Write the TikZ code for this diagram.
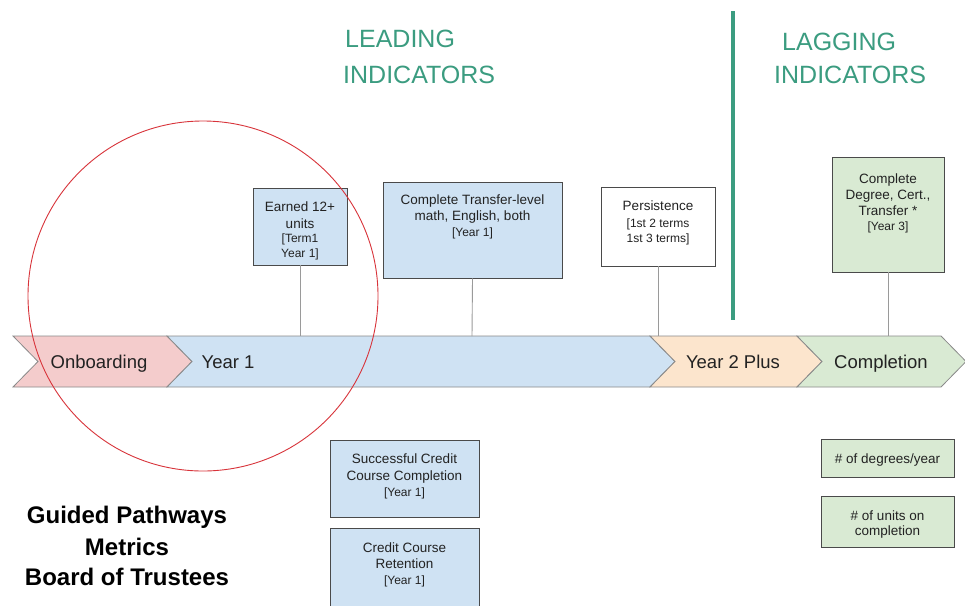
\documentclass[tikz,border=0pt]{standalone}
\usepackage{fontspec}
\setmainfont{Liberation Sans}
\definecolor{cblue}{HTML}{CFE2F3}
\definecolor{cpink}{HTML}{F4CCCC}
\definecolor{corange}{HTML}{FCE5CD}
\definecolor{cgreen}{HTML}{D9EAD3}
\definecolor{cteal}{HTML}{3B9C80}
\definecolor{cborder}{HTML}{4A4A4A}
\definecolor{cband}{HTML}{8A8A8A}
\definecolor{cconn}{HTML}{9A9A9A}
\definecolor{ctext}{HTML}{222222}
\definecolor{cred}{HTML}{D8333A}
\newcommand{\fsz}[1]{\fontsize{#1}{#1}\selectfont}
\tikzset{
  box/.style={draw=cborder, line width=0.9pt, inner sep=0pt},
  band/.style={draw=cband, line width=0.8pt},
  conn/.style={draw=cconn, line width=0.9pt},
  t/.style={inner sep=0pt, anchor=base, text=ctext, font=\fsz{13.5}},
  ts/.style={t, font=\fsz{12}},
  chev/.style={inner sep=0pt, anchor=base, text=ctext, font=\fsz{18.5}},
  head/.style={inner sep=0pt, anchor=base west, text=cteal, font=\fsz{25}},
  title/.style={inner sep=0pt, anchor=base, text=black, font=\bfseries\fsz{24}}
}
\begin{document}
\begin{tikzpicture}[x=1pt,y=-1pt]
\useasboundingbox (0,0) rectangle (965,605);
\fill[white] (0,0) rectangle (965,605);

% headers
\node[head] (h1) at (345,47) {LEADING};
\node[head] (h2) at (343,83) {INDICATORS};
\node[head] (h3) at (782,50) {LAGGING};
\node[head] (h4) at (774,83) {INDICATORS};
\draw[cteal, line width=4pt] (733,11) -- (733,320);

% chevron band
\path[band, fill=cpink] (13,336) -- (167,336) -- (192,361.5) -- (167,387) -- (13,387) -- (38,361.5) -- cycle;
\path[band, fill=cblue] (167,336) -- (650,336) -- (675,361.5) -- (650,387) -- (167,387) -- (192,361.5) -- cycle;
\path[band, fill=corange] (650,336) -- (797,336) -- (822,361.5) -- (797,387) -- (650,387) -- (675,361.5) -- cycle;
\path[band, fill=cgreen] (797,336) -- (941,336) -- (966,361.5) -- (941,387) -- (797,387) -- (822,361.5) -- cycle;
\node[chev] (c1) at (99,368.5) {Onboarding};
\node[chev] (c2) at (228,368.5) {Year 1};
\node[chev] (c3) at (733,368.5) {Year 2 Plus};
\node[chev] (c4) at (881,368.5) {Completion};

% band attachment points
\coordinate (p1) at (300,336);
\coordinate (p2) at (472,336);
\coordinate (p3) at (658,336);
\coordinate (p4) at (888,336);

% upper boxes
\node[box, fill=cblue, minimum width=94pt, minimum height=77pt] (b1) at (300,226.5) {};
\node[box, fill=cblue, minimum width=179pt, minimum height=96pt] (b2) at (472.5,230) {};
\node[box, fill=white, minimum width=114pt, minimum height=79pt] (b3) at (658,226.5) {};
\node[box, fill=cgreen, minimum width=112pt, minimum height=115pt] (b4) at (888,214.5) {};
\draw[conn] (b1.south) -- (p1);
\draw[conn] (b2.south) -- (p2);
\draw[conn] (b3.south) -- (p3);
\draw[conn] (b4.south) -- (p4);

\node[t] (b1a) at (300,211) {Earned 12+};
\node[t] (b1b) at (300,228) {units};
\node[ts] (b1c) at (300,242.5) {[Term1};
\node[ts] (b1d) at (300,257.5) {Year 1]};

\node[t] (b2a) at (472.5,204) {Complete Transfer-level};
\node[t] (b2b) at (472.5,220.5) {math, English, both};
\node[ts] (b2c) at (472.5,236.5) {[Year 1]};

\node[t] (b3a) at (658,210) {Persistence};
\node[ts] (b3b) at (658,227.5) {[1st 2 terms};
\node[ts] (b3c) at (658,242.5) {1st 3 terms]};

\node[t] (b4a) at (888,183) {Complete};
\node[t] (b4b) at (888,199.5) {Degree, Cert.,};
\node[t] (b4c) at (888,215.5) {Transfer *};
\node[ts] (b4d) at (888,230) {[Year 3]};

% lower boxes
\node[box, fill=cblue, minimum width=149pt, minimum height=77pt] (d1) at (404.5,478.5) {};
\node[box, fill=cblue, minimum width=149pt, minimum height=90pt] (d2) at (404.5,573) {};
\node[box, fill=cgreen, minimum width=133pt, minimum height=38pt] (d3) at (887.5,458.5) {};
\node[box, fill=cgreen, minimum width=133pt, minimum height=51pt] (d4) at (887.5,521.5) {};

\node[t] (d1a) at (404.5,463) {Successful Credit};
\node[t] (d1b) at (404.5,480) {Course Completion};
\node[ts] (d1c) at (404.5,496.5) {[Year 1]};

\node[t] (d2a) at (404.5,552) {Credit Course};
\node[t] (d2b) at (404.5,568.5) {Retention};
\node[ts] (d2c) at (404.5,584.5) {[Year 1]};

\node[t] (d3a) at (887.5,463) {\# of degrees/year};
\node[t] (d4a) at (887.5,520) {\# of units on};
\node[t] (d4b) at (887.5,535.5) {completion};

% title
\node[title] (g1) at (127,523.5) {Guided Pathways};
\node[title] (g2) at (127,555.5) {Metrics};
\node[title] (g3) at (127,585.5) {Board of Trustees};

% red circle
\draw[cred, line width=0.9pt] (203,296) circle (175pt);
\end{tikzpicture}
\end{document}
